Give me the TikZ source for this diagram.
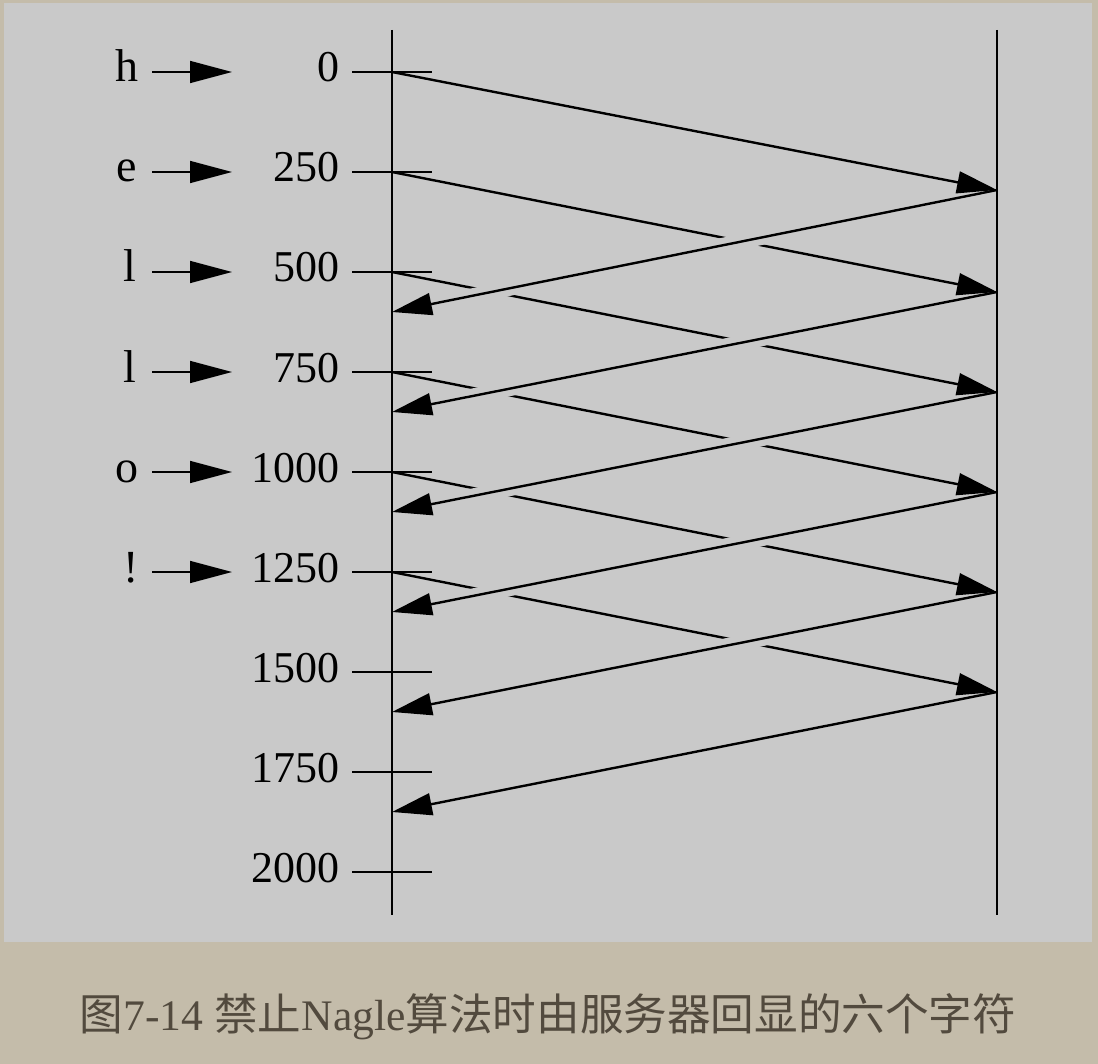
\documentclass[tikz,border=0pt]{standalone}
\usepackage{fontspec}
\setmainfont{Liberation Serif}
\newfontfamily\cjk{Noto Sans CJK SC}
\usetikzlibrary{arrows.meta}
\definecolor{frame}{RGB}{196,188,170}
\definecolor{paper}{RGB}{201,201,201}
\definecolor{captext}{RGB}{82,74,62}
\tikzset{
  axis/.style={line width=1pt},
  tick/.style={line width=1pt},
  seg/.style={line width=1.2pt,-{Triangle[length=20pt,width=11pt]}},
  halo/.style={draw=paper,line width=7.5pt,shorten <=30pt,shorten >=30pt},
  key/.style={line width=0.8pt,-{Triangle[length=21pt,width=11pt]}},
  char/.style={font=\fontsize{23}{25}\selectfont,anchor=base,inner sep=0pt},
  lbl/.style={font=\fontsize{22}{24}\selectfont,anchor=base east,inner sep=0pt}
}
\begin{document}
\begin{tikzpicture}[x=0.5pt,y=-0.5pt]
\fill[frame] (0,0) rectangle (1098,1064);
\fill[paper] (4,3) rectangle (1092,942);
\useasboundingbox (0,0) rectangle (1098,1064);
% client and server time lines
\coordinate (ctop) at (392,30); \coordinate (cbot) at (392,915);
\coordinate (stop) at (997,30); \coordinate (sbot) at (997,915);
\draw[axis] (ctop) -- (cbot);
\draw[axis] (stop) -- (sbot);
% ticks, ms
\node[lbl] (t0) at (340,82) {0};\coordinate (c0) at (392,72);\draw[tick] (c0) ++(-40,0) -- ++(80,0);
\node[lbl] (t1) at (340,182) {250};\coordinate (c1) at (392,172);\draw[tick] (c1) ++(-40,0) -- ++(80,0);
\node[lbl] (t2) at (340,282) {500};\coordinate (c2) at (392,272);\draw[tick] (c2) ++(-40,0) -- ++(80,0);
\node[lbl] (t3) at (340,382) {750};\coordinate (c3) at (392,372);\draw[tick] (c3) ++(-40,0) -- ++(80,0);
\node[lbl] (t4) at (340,482) {1000};\coordinate (c4) at (392,472);\draw[tick] (c4) ++(-40,0) -- ++(80,0);
\node[lbl] (t5) at (340,582) {1250};\coordinate (c5) at (392,572);\draw[tick] (c5) ++(-40,0) -- ++(80,0);
\node[lbl] (t6) at (340,682) {1500};\coordinate (c6) at (392,672);\draw[tick] (c6) ++(-40,0) -- ++(80,0);
\node[lbl] (t7) at (340,782) {1750};\coordinate (c7) at (392,772);\draw[tick] (c7) ++(-40,0) -- ++(80,0);
\node[lbl] (t8) at (340,882) {2000};\coordinate (c8) at (392,872);\draw[tick] (c8) ++(-40,0) -- ++(80,0);
% typed characters
\node[char] (kh) at (127,82) {h};\coordinate (k0) at (152,72);\coordinate (a0) at (232,72);\draw[key] (k0) -- (a0);
\node[char] (ke) at (127,182) {e};\coordinate (k1) at (152,172);\coordinate (a1) at (232,172);\draw[key] (k1) -- (a1);
\node[char] (kl) at (130,282) {l};\coordinate (k2) at (152,272);\coordinate (a2) at (232,272);\draw[key] (k2) -- (a2);
\node[char] (kL) at (130,382) {l};\coordinate (k3) at (152,372);\coordinate (a3) at (232,372);\draw[key] (k3) -- (a3);
\node[char] (ko) at (127,482) {o};\coordinate (k4) at (152,472);\coordinate (a4) at (232,472);\draw[key] (k4) -- (a4);
\node[char] (kx) at (131,582) {!};\coordinate (k5) at (152,572);\coordinate (a5) at (232,572);\draw[key] (k5) -- (a5);
% arrivals at the server, echoes back at the client
\coordinate (s0) at (997,190);\coordinate (e0) at (392,312);
\coordinate (s1) at (997,292);\coordinate (e1) at (392,412);
\coordinate (s2) at (997,392);\coordinate (e2) at (392,512);
\coordinate (s3) at (997,492);\coordinate (e3) at (392,612);
\coordinate (s4) at (997,592);\coordinate (e4) at (392,712);
\coordinate (s5) at (997,692);\coordinate (e5) at (392,812);
% data segments
\draw[seg] (c0) -- (s0);
\draw[seg] (c1) -- (s1);
\draw[seg] (c2) -- (s2);
\draw[seg] (c3) -- (s3);
\draw[seg] (c4) -- (s4);
\draw[seg] (c5) -- (s5);
% echoed segments, crossing over the data
\draw[halo] (s0) -- (e0);\draw[seg] (s0) -- (e0);
\draw[halo] (s1) -- (e1);\draw[seg] (s1) -- (e1);
\draw[halo] (s2) -- (e2);\draw[seg] (s2) -- (e2);
\draw[halo] (s3) -- (e3);\draw[seg] (s3) -- (e3);
\draw[halo] (s4) -- (e4);\draw[seg] (s4) -- (e4);
\draw[halo] (s5) -- (e5);\draw[seg] (s5) -- (e5);
% caption
\node[font=\fontsize{21.8}{24}\selectfont,text=captext] (cap) at (548,1017) {{\cjk 图}7-14 {\cjk 禁止}Nagle{\cjk 算法时由服务器回显的六个字符}};
\end{tikzpicture}
\end{document}
